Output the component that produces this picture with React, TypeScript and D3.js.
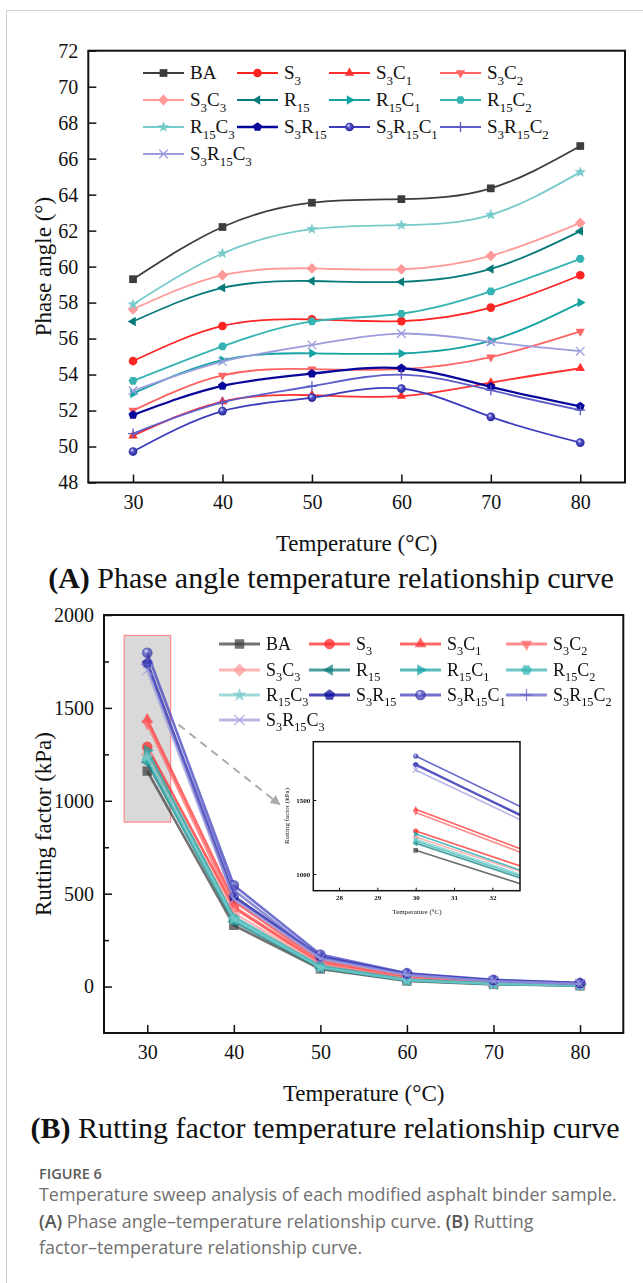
import React, { useEffect, useRef } from 'react';
import * as d3 from 'd3';

// test temperatures (°C)
const temps = [30, 40, 50, 60, 70, 80];

const sampleNames = ['BA', 'S3', 'S3C1', 'S3C2', 'S3C3', 'R15', 'R15C1', 'R15C2', 'R15C3', 'S3R15', 'S3R15C1', 'S3R15C2', 'S3R15C3'];
const sampleColors = ['#3d3d3d', '#ff2424', '#ff3030', '#ff6464', '#ff9a9a', '#087a7a', '#15a2a2', '#35b3b3', '#78cbcb', '#06069a', '#3a3abd', '#5e5ec9', '#9c9cde'];
const sampleMarkers = ['square', 'circle', 'up', 'down', 'diamond', 'left', 'right', 'hexagon', 'star', 'pentagon', 'sphere', 'plus', 'times'];

// phase angle (°)
const phaseBA = [59.3, 62.2, 63.55, 63.75, 64.35, 66.7];
const phaseS3 = [54.75, 56.7, 57.07, 56.97, 57.72, 59.52];
const phaseS3C1 = [50.6, 52.5, 52.85, 52.8, 53.55, 54.35];
const phaseS3C2 = [52.0, 53.95, 54.3, 54.3, 54.97, 56.4];
const phaseS3C3 = [57.63, 59.52, 59.9, 59.85, 60.6, 62.43];
const phaseR15 = [56.95, 58.82, 59.2, 59.15, 59.87, 61.97];
const phaseR15C1 = [52.95, 54.8, 55.18, 55.17, 55.88, 58.0];
const phaseR15C2 = [53.65, 55.57, 56.95, 57.38, 58.62, 60.43];
const phaseR15C3 = [57.9, 60.73, 62.08, 62.3, 62.88, 65.25];
const phaseS3R15 = [51.75, 53.37, 54.05, 54.35, 53.32, 52.23];
const phaseS3R15C1 = [49.72, 51.97, 52.72, 53.22, 51.65, 50.22];
const phaseS3R15C2 = [50.72, 52.45, 53.35, 54.0, 53.13, 52.02];
const phaseS3R15C3 = [53.1, 54.72, 55.65, 56.28, 55.82, 55.3];

// rutting factor (kPa)
const rutBA = [1160, 330, 95, 30, 12, 5];
const rutS3 = [1290, 425, 125, 45, 20, 9];
const rutS3C1 = [1437, 460, 140, 50, 22, 10];
const rutS3C2 = [1415, 430, 132, 48, 21, 10];
const rutS3C3 = [1250, 395, 120, 42, 18, 8];
const rutR15 = [1207, 350, 100, 33, 14, 6];
const rutR15C1 = [1270, 375, 110, 38, 16, 7];
const rutR15C2 = [1222, 360, 105, 35, 15, 6];
const rutR15C3 = [1235, 365, 102, 34, 14, 6];
const rutS3R15 = [1740, 484, 160, 68, 33, 17];
const rutS3R15C1 = [1797, 545, 172, 72, 36, 19];
const rutS3R15C2 = [1735, 520, 155, 65, 30, 15];
const rutS3R15C3 = [1703, 470, 150, 62, 28, 14];

const phaseData = [phaseBA, phaseS3, phaseS3C1, phaseS3C2, phaseS3C3, phaseR15, phaseR15C1, phaseR15C2, phaseR15C3, phaseS3R15, phaseS3R15C1, phaseS3R15C2, phaseS3R15C3];
const rutData = [rutBA, rutS3, rutS3C1, rutS3C2, rutS3C3, rutR15, rutR15C1, rutR15C2, rutR15C3, rutS3R15, rutS3R15C1, rutS3R15C2, rutS3R15C3];

const phaseTicks = [48, 50, 52, 54, 56, 58, 60, 62, 64, 66, 68, 70, 72];
const rutTicks = [0, 500, 1000, 1500, 2000];
const rutMinorTicks = [250, 750, 1250, 1750];
const insetXTicks = [28, 29, 30, 31, 32];
const insetYTicks = [1000, 1500];
const zoomBox = [27.33, 32.7, 885, 1890]; // x0, x1, y0, y1 in data units

const serif = "'Liberation Serif', 'Times New Roman', serif";
const sans = "'Open Sans', 'Noto Sans', sans-serif";

const rad = (d: number) => (d * Math.PI) / 180;
const poly = (pts: number[][]) => ({
  draw(ctx: any, size: number) {
    const r = Math.sqrt(size) / 2;
    pts.forEach(([a, k], i) => {
      const px = Math.cos(a) * r * k;
      const py = Math.sin(a) * r * k;
      if (i) ctx.lineTo(px, py);
      else ctx.moveTo(px, py);
    });
    ctx.closePath();
  },
});
const ngon = (n: number, start: number, k: number) => poly(d3.range(n).map(i => [start + (i * 2 * Math.PI) / n, k]));
const round = {
  draw(ctx: any, size: number) {
    const r = (Math.sqrt(size) / 2) * 1.12;
    ctx.moveTo(r, 0);
    ctx.arc(0, 0, r, 0, 2 * Math.PI);
  },
};
const markerTypes: any = {
  square: ngon(4, rad(45), Math.SQRT2),
  circle: round,
  sphere: round,
  up: ngon(3, rad(-90), 1.4),
  down: ngon(3, rad(90), 1.4),
  left: ngon(3, rad(180), 1.4),
  right: ngon(3, 0, 1.4),
  diamond: ngon(4, rad(-90), 1.4),
  hexagon: ngon(6, 0, 1.15),
  pentagon: ngon(5, rad(-90), 1.22),
  star: poly(d3.range(10).map(i => [rad(-90 + i * 36), i % 2 ? 0.62 : 1.55])),
  plus: {
    draw(ctx: any, size: number) {
      const r = (Math.sqrt(size) / 2) * 1.3;
      ctx.moveTo(-r, 0); ctx.lineTo(r, 0);
      ctx.moveTo(0, -r); ctx.lineTo(0, r);
    },
  },
  times: {
    draw(ctx: any, size: number) {
      const r = (Math.sqrt(size) / 2) * 1.1;
      ctx.moveTo(-r, -r); ctx.lineTo(r, r);
      ctx.moveTo(-r, r); ctx.lineTo(r, -r);
    },
  },
};

const drawMarker = (g: any, i: number, cx: number, cy: number, size: number) => {
  const kind = sampleMarkers[i];
  const stroked = kind === 'plus' || kind === 'times';
  g.append('path')
    .attr('transform', `translate(${cx},${cy})`)
    .attr('d', d3.symbol().type(markerTypes[kind]).size(size)())
    .attr('fill', stroked ? 'none' : kind === 'sphere' ? 'url(#sphere)' : sampleColors[i])
    .attr('stroke', stroked ? sampleColors[i] : 'none')
    .attr('stroke-width', stroked ? 1.3 : 0);
};

// sample name with numeric subscripts
const appendName = (text: any, name: string, subSize: number) => {
  let down = false;
  (name.match(/[A-Z]+|\d+/g) || []).forEach(p => {
    const t = text.append('tspan').text(p);
    if (/\d/.test(p)) {
      t.attr('font-size', subSize);
      if (!down) t.attr('dy', subSize * 0.4);
      down = true;
    } else {
      if (down) t.attr('dy', -subSize * 0.4);
      down = false;
    }
  });
};

const styleAxis = (a: any, size: number, weight: string) => {
  a.select('.domain').remove();
  a.attr('font-family', serif).attr('font-size', size);
  a.selectAll('line').attr('stroke', '#111').attr('stroke-width', size > 10 ? 1.5 : 1);
  a.selectAll('text')
    .attr('fill', '#111')
    .attr('font-family', serif)
    .attr('font-size', size)
    .attr('font-weight', weight);
};

function drawPanel(svg: any, p: any) {
  const x = d3.scaleLinear().domain([25, 85]).range([p.left, p.right]);
  const y = d3.scaleLinear().domain(p.yDomain).range([p.bottom, p.top]);
  const g = svg.append('g');

  if (p.before) p.before(g, x, y);

  p.data.forEach((vals: number[], i: number) => {
    const pts = temps.map((t, j) => [t, vals[j]]);
    const line = d3.line().x(d => x(d[0])).y(d => y(d[1])).curve(p.curve);
    g.append('path')
      .attr('d', line(pts as any))
      .attr('fill', 'none')
      .attr('stroke', sampleColors[i])
      .attr('stroke-opacity', p.alpha)
      .attr('stroke-width', i === 9 ? p.lw + 0.5 : p.lw);
    const mg = g.append('g').attr('opacity', p.alpha);
    pts.forEach(d => drawMarker(mg, i, x(d[0]), y(d[1]), p.ms));
  });

  // axes with inward ticks
  const yAxis = g.append('g')
    .attr('transform', `translate(${p.left},0)`)
    .call(d3.axisLeft(y).tickValues(p.yTicks).tickSize(-8).tickPadding(10).tickFormat(d3.format('d')));
  if (p.yMinor) {
    g.append('g')
      .attr('transform', `translate(${p.left},0)`)
      .call(d3.axisLeft(y).tickValues(p.yMinor).tickSize(-5).tickFormat(() => ''))
      .call((s: any) => s.select('.domain').remove())
      .selectAll('line').attr('stroke', '#111').attr('stroke-width', 1.5);
  }
  const xAxis = g.append('g')
    .attr('transform', `translate(0,${p.bottom})`)
    .call(d3.axisBottom(x).tickValues(temps).tickSize(-8).tickPadding(12));
  styleAxis(yAxis, 20, 'normal');
  styleAxis(xAxis, 20, 'normal');

  g.append('rect')
    .attr('x', p.left).attr('y', p.top)
    .attr('width', p.right - p.left).attr('height', p.bottom - p.top)
    .attr('fill', 'none').attr('stroke', '#111').attr('stroke-width', 2);

  if (p.after) p.after(g, x, y);

  // legend
  sampleNames.forEach((name, i) => {
    const cx = p.legendCols[i % 4];
    const cy = p.legendRows[Math.floor(i / 4)];
    g.append('line')
      .attr('x1', cx).attr('x2', cx + 41).attr('y1', cy).attr('y2', cy)
      .attr('stroke', sampleColors[i]).attr('stroke-opacity', p.alpha)
      .attr('stroke-width', i === 9 ? p.lw + 0.5 : p.lw + 0.3);
    drawMarker(g.append('g').attr('opacity', p.alpha), i, cx + 20.5, cy, p.ms);
    const t = g.append('text')
      .attr('x', cx + 47).attr('y', cy + p.legendFont * 0.34)
      .attr('font-family', serif).attr('font-size', p.legendFont).attr('fill', '#111');
    appendName(t, name, p.legendFont * 0.68);
  });

  // axis titles
  g.append('text')
    .attr('transform', `translate(43,${(p.top + p.bottom) / 2}) rotate(-90)`)
    .attr('text-anchor', 'middle').attr('dominant-baseline', 'central')
    .attr('font-family', serif).attr('font-size', 23).attr('fill', '#111')
    .text(p.yLabel);
  g.append('text')
    .attr('x', (p.left + p.right) / 2).attr('y', p.bottom + 68)
    .attr('text-anchor', 'middle')
    .attr('font-family', serif).attr('font-size', 23).attr('fill', '#111')
    .text('Temperature (°C)');
  const title = g.append('text')
    .attr('x', p.titleX).attr('y', p.bottom + 105)
    .attr('text-anchor', 'middle')
    .attr('font-family', serif).attr('font-size', 30).attr('fill', '#111');
  title.append('tspan').attr('font-weight', 'bold').text(p.tag);
  title.append('tspan').text(' ' + p.title);
}

const App = () => {
  const svgRef = useRef(null);

  useEffect(() => {
    const svg = d3.select(svgRef.current);
    svg.selectAll('*').remove();

    const defs = svg.append('defs');
    const grad = defs.append('radialGradient').attr('id', 'sphere')
      .attr('cx', '0.5').attr('cy', '0.5').attr('r', '0.55').attr('fx', '0.35').attr('fy', '0.3');
    grad.append('stop').attr('offset', '0').attr('stop-color', '#e6e6ff');
    grad.append('stop').attr('offset', '0.45').attr('stop-color', '#4a4ac6');
    grad.append('stop').attr('offset', '1').attr('stop-color', '#22228f');
    defs.append('marker').attr('id', 'arrowHead')
      .attr('viewBox', '0 0 10 10').attr('refX', 9).attr('refY', 5)
      .attr('markerWidth', 5).attr('markerHeight', 5).attr('orient', 'auto')
      .append('path').attr('d', 'M0,0 L10,5 L0,10 Z').attr('fill', '#aaa');
    defs.append('clipPath').attr('id', 'insetClip')
      .append('rect').attr('x', 313.3).attr('y', 741.7).attr('width', 206.7).attr('height', 149);

    // card frame
    svg.append('path').attr('d', 'M6.5,1283 V10.5 H643').attr('fill', 'none').attr('stroke', '#cfcfcf');

    // (A) phase angle
    drawPanel(svg, {
      left: 88.3, right: 625, top: 50.7, bottom: 482.5,
      yDomain: [48, 72], yTicks: phaseTicks,
      data: phaseData, curve: d3.curveNatural, lw: 1.8, alpha: 1, ms: 60,
      legendCols: [143, 237, 329, 440], legendRows: [73, 100, 127, 154], legendFont: 19,
      yLabel: 'Phase angle (°)', tag: '(A)', title: 'Phase angle temperature relationship curve', titleX: 331,
    });

    // (B) rutting factor
    drawPanel(svg, {
      left: 104, right: 623.3, top: 615, bottom: 1033,
      yDomain: [-250, 2000], yTicks: rutTicks, yMinor: rutMinorTicks,
      data: rutData, curve: d3.curveLinear, lw: 2.6, alpha: 0.72, ms: 90,
      legendCols: [219, 309, 400, 506], legendRows: [644, 670, 695, 720], legendFont: 18,
      yLabel: 'Rutting factor (kPa)', tag: '(B)', title: 'Rutting factor temperature relationship curve', titleX: 325,
      before: (g: any, x: any, y: any) => {
        g.append('rect')
          .attr('x', x(zoomBox[0])).attr('y', y(zoomBox[3]))
          .attr('width', x(zoomBox[1]) - x(zoomBox[0])).attr('height', y(zoomBox[2]) - y(zoomBox[3]))
          .attr('fill', '#d9d9d9').attr('stroke', '#ff8a8a').attr('stroke-width', 1.2);
      },
      after: (g: any, x: any, y: any) => {
        g.append('line')
          .attr('x1', x(33.6)).attr('y1', y(1410)).attr('x2', x(45.3)).attr('y2', y(980))
          .attr('stroke', '#aaa').attr('stroke-width', 2).attr('stroke-dasharray', '8,6')
          .attr('marker-end', 'url(#arrowHead)');

        // zoomed inset
        const ix = d3.scaleLinear().domain([27.33, 32.72]).range([313.3, 520]);
        const iy = d3.scaleLinear().domain([887, 1894]).range([890.7, 741.7]);
        const ig = g.append('g');
        ig.append('rect').attr('x', 313.3).attr('y', 741.7).attr('width', 206.7).attr('height', 149).attr('fill', '#fff');
        const lg = ig.append('g').attr('clip-path', 'url(#insetClip)');
        rutData.forEach((vals, i) => {
          const line = d3.line().x((d: any) => ix(d[0])).y((d: any) => iy(d[1]));
          lg.append('path')
            .attr('d', line(temps.map((t, j) => [t, vals[j]]) as any))
            .attr('fill', 'none').attr('stroke', sampleColors[i])
            .attr('stroke-opacity', 0.75).attr('stroke-width', i === 9 ? 2 : 1.6);
          drawMarker(lg.append('g').attr('opacity', 0.75), i, ix(temps[0]), iy(vals[0]), 22);
        });
        const ia = ig.append('g').attr('transform', 'translate(0,890.7)')
          .call(d3.axisBottom(ix).tickValues(insetXTicks).tickSize(-3).tickPadding(4).tickFormat(d3.format('d')));
        const ya = ig.append('g').attr('transform', 'translate(313.3,0)')
          .call(d3.axisLeft(iy).tickValues(insetYTicks).tickSize(-3).tickPadding(3).tickFormat(d3.format('d')));
        styleAxis(ia, 7, 'bold');
        styleAxis(ya, 7, 'bold');
        ig.append('rect').attr('x', 313.3).attr('y', 741.7).attr('width', 206.7).attr('height', 149)
          .attr('fill', 'none').attr('stroke', '#111').attr('stroke-width', 1.5);
        ig.append('text')
          .attr('transform', `translate(287,816) rotate(-90)`)
          .attr('text-anchor', 'middle').attr('dominant-baseline', 'central')
          .attr('font-family', serif).attr('font-size', 7).attr('fill', '#111')
          .text('Rutting factor (kPa)');
        ig.append('text')
          .attr('x', 417).attr('y', 914).attr('text-anchor', 'middle')
          .attr('font-family', serif).attr('font-size', 7).attr('fill', '#111')
          .text('Temperature (°C)');
      },
    });

    // figure caption
    const cap = svg.append('g').attr('font-family', sans);
    cap.append('text').attr('x', 39).attr('y', 1179)
      .attr('font-size', 14.5).attr('font-weight', 600).attr('fill', '#5a5a5a')
      .text('FIGURE 6');
    const capLines = [
      [['', 'Temperature sweep analysis of each modified asphalt binder sample.']],
      [['(A)', ' Phase angle–temperature relationship curve. '], ['(B)', ' Rutting']],
      [['', 'factor–temperature relationship curve.']],
    ];
    capLines.forEach((segs, k) => {
      const t = cap.append('text').attr('x', 39).attr('y', 1201 + k * 26.5)
        .attr('font-size', 17.9).attr('fill', '#707070');
      segs.forEach(([b, rest]) => {
        if (b) t.append('tspan').attr('font-weight', 600).attr('fill', '#555').text(b);
        t.append('tspan').text(rest);
      });
    });
  }, []);

  return (
    <svg
      ref={svgRef}
      width={643}
      height={1283}
      style={{ position: 'absolute', left: 0, top: 0, background: '#fff' }}
    />
  );
};

export default App;
